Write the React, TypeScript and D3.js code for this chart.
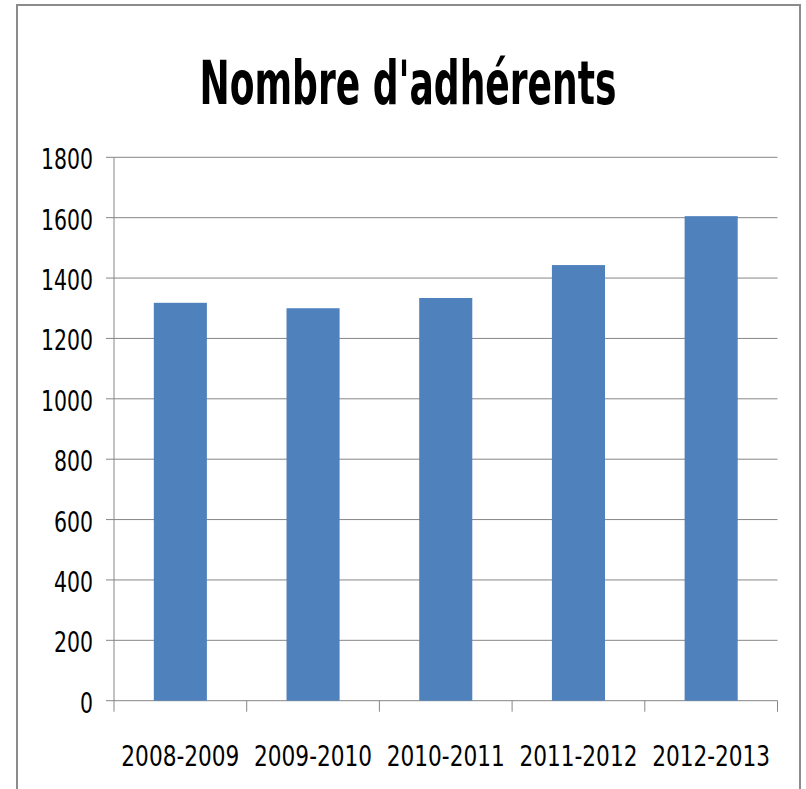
import React, { useEffect, useRef } from "react";
import * as d3 from "d3";

const seasons = ["2008-2009", "2009-2010", "2010-2011", "2011-2012", "2012-2013"];
const members = [1318, 1300, 1334, 1443, 1605];
const yTicks = [0, 200, 400, 600, 800, 1000, 1200, 1400, 1600, 1800];
const title = "Nombre d'adhérents";

const font = "'Liberation Sans Narrow', 'DejaVu Sans Condensed', 'Liberation Sans', sans-serif";

function App() {
    const chart = useRef<SVGSVGElement>(null);

    useEffect(() => {
        const svg = d3.select(chart.current);
        svg.selectAll("*").remove();

        const left = 114, right = 777.5, top = 157.3, bottom = 700.7;

        const x = d3.scaleBand().domain(seasons).range([left, right]).paddingInner(0.6).paddingOuter(0.3);
        const band = d3.scaleBand().domain(seasons).range([left, right]);
        const y = d3.scaleLinear().domain([0, 1800]).range([bottom, top]);

        // chart border
        svg.append("rect")
            .attr("x", 17).attr("y", 5)
            .attr("width", 783).attr("height", 800)
            .attr("fill", "white")
            .attr("stroke", "#8c8c8c")
            .attr("stroke-width", 2);

        // title squeezed horizontally to the width seen in the picture
        const titleText = svg.append("text")
            .attr("text-anchor", "middle")
            .attr("font-family", font)
            .attr("font-weight", "bold")
            .attr("font-size", 60)
            .text(title);
        const natural = (titleText.node() as SVGTextElement).getComputedTextLength() || 417;
        titleText.attr("transform", `translate(408,104) scale(${417 / natural},1)`);

        // gridlines
        svg.append("g")
            .selectAll("line")
            .data(yTicks)
            .join("line")
                .attr("x1", left - 8).attr("x2", right)
                .attr("y1", d => y(d)).attr("y2", d => y(d))
                .attr("stroke", "#868686")
                .attr("stroke-width", 1);

        // y axis line
        svg.append("line")
            .attr("x1", left).attr("x2", left)
            .attr("y1", top).attr("y2", bottom + 11)
            .attr("stroke", "#868686");

        // x ticks between categories
        const xEdges = seasons.map(s => (band(s) as number) + band.bandwidth());
        svg.append("g")
            .selectAll("line")
            .data(xEdges)
            .join("line")
                .attr("x1", d => d).attr("x2", d => d)
                .attr("y1", bottom).attr("y2", bottom + 11)
                .attr("stroke", "#868686");

        svg.append("g")
            .selectAll("text")
            .data(yTicks)
            .join("text")
                .attr("x", 93)
                .attr("y", d => y(d) + 12)
                .attr("text-anchor", "end")
                .attr("font-family", font)
                .attr("font-size", 28)
                .attr("textLength", d => String(d).length * 13)
                .attr("lengthAdjust", "spacingAndGlyphs")
                .text(d => d);

        svg.append("g")
            .selectAll("rect")
            .data(members)
            .join("rect")
                .attr("x", (d, i) => x(seasons[i]) as number)
                .attr("y", d => y(d))
                .attr("width", x.bandwidth())
                .attr("height", d => bottom - y(d))
                .attr("fill", "#4f81bd");

        svg.append("g")
            .selectAll("text")
            .data(seasons)
            .join("text")
                .attr("x", d => (band(d) as number) + band.bandwidth() / 2)
                .attr("y", 766)
                .attr("text-anchor", "middle")
                .attr("font-family", font)
                .attr("font-size", 28)
                .attr("textLength", 118)
                .attr("lengthAdjust", "spacingAndGlyphs")
                .text(d => d);
    }, []);

    return (
        <div style={{ position: "absolute", left: 0, top: 0 }}>
            <svg ref={chart} width={806} height={789} style={{ display: "block" }}></svg>
        </div>
    );
}

export default App;
